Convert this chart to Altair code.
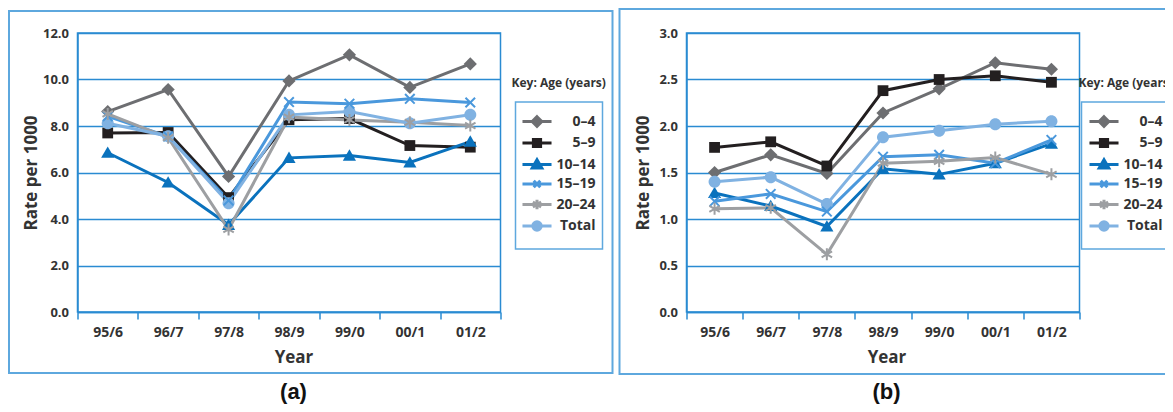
import altair as alt
import pandas as pd

YEARS = ["95/6", "96/7", "97/8", "98/9", "99/0", "00/1", "01/2"]
GROUPS = ["0–4", "5–9", "10–14", "15–19", "20–24", "Total"]
COLORS = ["#6d6e71", "#231f20", "#0a72bd", "#4a98dc", "#9d9fa2", "#80b2e2"]

# Panel (a): rate per 1000
A_0_4 = [8.62, 9.57, 5.83, 9.94, 11.06, 9.66, 10.67]
A_5_9 = [7.7, 7.72, 4.92, 8.27, 8.32, 7.16, 7.09]
A_10_14 = [6.85, 5.57, 3.75, 6.63, 6.73, 6.43, 7.33]
A_15_19 = [8.42, 7.55, 4.8, 9.03, 8.96, 9.17, 9.01]
A_20_24 = [8.52, 7.5, 3.55, 8.38, 8.26, 8.16, 8.02]
A_TOTAL = [8.12, 7.56, 4.68, 8.48, 8.62, 8.12, 8.48]

# Panel (b): rate per 1000
B_0_4 = [1.5, 1.69, 1.49, 2.14, 2.4, 2.68, 2.61]
B_5_9 = [1.77, 1.83, 1.57, 2.38, 2.5, 2.54, 2.47]
B_10_14 = [1.28, 1.14, 0.92, 1.54, 1.48, 1.6, 1.81]
B_15_19 = [1.19, 1.27, 1.08, 1.67, 1.69, 1.6, 1.85]
B_20_24 = [1.11, 1.12, 0.62, 1.6, 1.62, 1.66, 1.48]
B_TOTAL = [1.4, 1.45, 1.16, 1.88, 1.95, 2.02, 2.05]

A_TICKS = [0, 2, 4, 6, 8, 10, 12]
B_TICKS = [0, 0.5, 1, 1.5, 2, 2.5, 3]

BLUE = "#2a8bd2"
BOX = "#5ea8de"
TXT = "#333333"
FONT = "Open Sans"

SHAPES = [
    "M0,-1.1L1.1,0L0,1.1L-1.1,0Z",
    "M-0.9,-0.9H0.9V0.9H-0.9Z",
    "M0,-1.05L1.1,0.85L-1.1,0.85Z",
    "M-0.8,-0.8L0.8,0.8M-0.8,0.8L0.8,-0.8",
    "M0,-1V1M-0.87,-0.5L0.87,0.5M-0.87,0.5L0.87,-0.5",
    "M-1,0A1,1,0,1,0,1,0A1,1,0,1,0,-1,0Z",
]
LINE = "M-2.42,0H2.42"
LEG_SHAPES = [
    LINE + "M0,-0.8L0.8,0L0,0.8L-0.8,0Z",
    LINE + "M-0.6,-0.6H0.6V0.6H-0.6Z",
    LINE + "M0,-0.8L0.8,0.6L-0.8,0.6Z",
    LINE + "M-0.55,-0.55L0.55,0.55M-0.55,0.55L0.55,-0.55",
    LINE + "M0,-0.8V0.8M-0.7,-0.4L0.7,0.4M-0.7,0.4L0.7,-0.4",
    LINE + "M-0.7,0A0.7,0.7,0,1,0,0.7,0A0.7,0.7,0,1,0,-0.7,0Z",
]
FILLED = ["0–4", "5–9", "10–14", "Total"]
STROKED = ["15–19", "20–24"]


def long(series):
    rows = []
    for g, vals in zip(GROUPS, series):
        for i, (yr, v) in enumerate(zip(YEARS, vals)):
            rows.append({"year": yr, "idx": i, "group": g, "rate": v})
    return pd.DataFrame(rows)


ONE = pd.DataFrame({"k": [0]})


def box(x1, x2, y1, y2, color, width):
    return alt.Chart(ONE).mark_rect(fillOpacity=0, stroke=color, strokeWidth=width).encode(
        x=alt.value(x1), x2=alt.value(x2), y=alt.value(y1), y2=alt.value(y2)
    )


def panel(df, ymax, ticks, width, ytitle_x, xtitle_x, legend_x, obox, lbox, tag):
    H = 279
    legend = alt.Legend(
        title="Key: Age (years)", orient="none", legendX=legend_x, legendY=45,
        titleFont=FONT, titleFontSize=12, titleFontWeight="bold", titleColor=TXT,
        titlePadding=24,
        labelFont=FONT, labelFontSize=14, labelFontWeight="bold", labelColor=TXT,
        labelAlign="right", labelOffset=51, labelLimit=300,
        symbolSize=144, symbolOffset=18, symbolStrokeWidth=3, symbolOpacity=1,
        rowPadding=-0.5, padding=0,
    )
    cscale = alt.Scale(domain=GROUPS, range=COLORS)
    x = alt.X(
        "year:N", sort=YEARS,
        scale=alt.Scale(type="band", domain=YEARS, paddingInner=0, paddingOuter=0),
        axis=alt.Axis(
            title="Year", tickBand="extent", labelAngle=0, grid=False,
            domainColor=BLUE, domainWidth=1.5, tickColor=BLUE, tickSize=7, tickWidth=1.5,
            labelFont=FONT, labelFontSize=14, labelFontWeight="bold", labelColor=TXT,
            labelBaseline="alphabetic", labelPadding=17,
            titleFont=FONT, titleFontSize=17, titleFontWeight="bold", titleColor=TXT,
            titleX=xtitle_x, titleY=50, titleBaseline="alphabetic", titleAlign="center",
        ),
    )
    y = alt.Y(
        "rate:Q",
        scale=alt.Scale(domain=[0, ymax], nice=False, zero=True),
        axis=alt.Axis(
            title="Rate per 1000", values=ticks, format=".1f", grid=True,
            gridColor=BLUE, gridWidth=1.3, domainColor=BLUE, domainWidth=1.5,
            ticks=False, tickSize=0, labelPadding=9,
            labelFont=FONT, labelFontSize=13, labelFontWeight="bold", labelColor=TXT,
            titleFont=FONT, titleFontSize=17, titleFontWeight="bold", titleColor=TXT,
            titleX=ytitle_x, titleY=H / 2, titleAngle=270, titleBaseline="middle",
            titleAlign="center",
        ),
    )
    shape = alt.Shape("group:N", scale=alt.Scale(domain=GROUPS, range=SHAPES), legend=None)

    # invisible layer that only carries the key (line + marker symbols)
    key = alt.Chart(df).mark_point(opacity=0, filled=True, size=144).encode(
        x=x, y=y,
        fill=alt.Fill("group:N", scale=cscale, legend=legend),
        stroke=alt.Stroke("group:N", scale=cscale, legend=legend),
        shape=alt.Shape("group:N", scale=alt.Scale(domain=GROUPS, range=LEG_SHAPES), legend=legend),
    )
    lines = alt.Chart(df).mark_line(strokeWidth=3).encode(
        x=x, y=y, color=alt.Color("group:N", scale=cscale, legend=None),
        order=alt.Order("idx:Q"), detail="group:N",
    )
    pts_f = alt.Chart(df).transform_filter(
        alt.FieldOneOfPredicate(field="group", oneOf=FILLED)
    ).mark_point(filled=True, size=144, opacity=1).encode(
        x=x, y=y, color=alt.Color("group:N", scale=cscale, legend=None), shape=shape
    )
    pts_s = alt.Chart(df).transform_filter(
        alt.FieldOneOfPredicate(field="group", oneOf=STROKED)
    ).mark_point(filled=False, size=144, strokeWidth=2, opacity=1).encode(
        x=x, y=y, color=alt.Color("group:N", scale=cscale, legend=None), shape=shape
    )
    label = alt.Chart(ONE).mark_text(
        text=tag[0], font="Liberation Sans", fontSize=22, fontWeight="bold",
        color="#111111", align="center", baseline="alphabetic",
    ).encode(x=alt.value(tag[1]), y=alt.value(365.5))
    return alt.layer(
        box(*obox, BOX, 2), box(*lbox, BOX, 1.5), key, lines, pts_f, pts_s, label
    ).resolve_scale(
        shape="independent", fill="independent", stroke="independent"
    ).properties(width=width, height=H)


pa = panel(long([A_0_4, A_5_9, A_10_14, A_15_19, A_20_24, A_TOTAL]), 12, A_TICKS, 423,
           -46, 216, 434, (-68.5, 535, -22, 340), (438, 525, 69, 216), ("(a)", 216))
pb = panel(long([B_0_4, B_5_9, B_10_14, B_15_19, B_20_24, B_TOTAL]), 3, B_TICKS, 393,
           -43, 200, 392, (-67, 505, -24, 341), (395, 482, 69, 216), ("(b)", 200))

chart = alt.hconcat(pa, pb, spacing=3).resolve_scale(
    color="independent", shape="independent", fill="independent", stroke="independent",
    x="independent", y="independent"
).resolve_legend(
    color="independent", shape="independent", fill="independent", stroke="independent"
).properties(
    autosize=alt.AutoSizeParams(type="none"),
    padding={"left": 69.5, "top": 25, "right": 1087.5, "bottom": 371},
).configure(font=FONT).configure_view(stroke=BLUE, strokeWidth=1.5)

chart.save("out.html", embed_options={"renderer": "svg", "actions": False})
